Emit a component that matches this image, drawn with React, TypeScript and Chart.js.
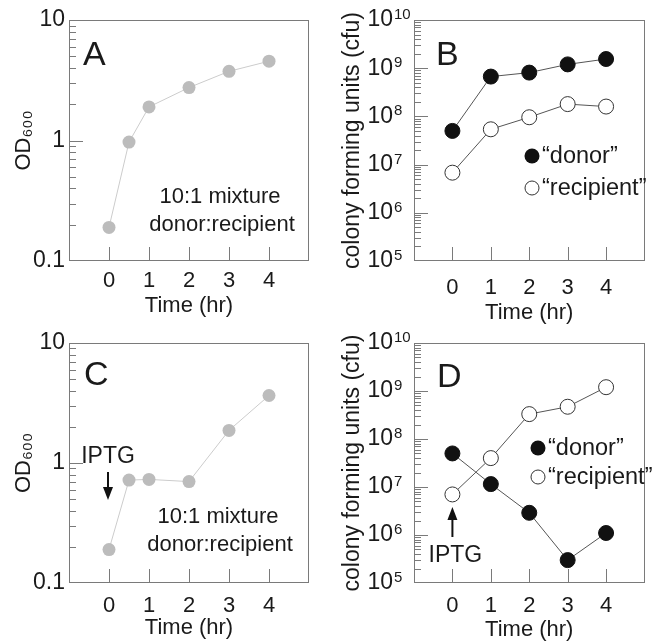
import React, { useEffect, useRef } from 'react';
import { Chart, registerables } from 'chart.js';

Chart.register(...registerables);

const FONT = '"Liberation Sans", Arial, Helvetica, sans-serif';
const TEXT = '#1a1a1a';
const AXIS = '#7a7a7a';

// ---- data ----
const timeOD = [0, 0.5, 1, 2, 3, 4];
const odA = [0.19, 0.97, 1.9, 2.75, 3.75, 4.55];
const odC = [0.19, 0.72, 0.73, 0.7, 1.87, 3.65];

const timeCfu = [0, 1, 2, 3, 4];
const donorB = [5e7, 6.7e8, 8.1e8, 1.2e9, 1.55e9];
const recipientB = [6.8e6, 5.4e7, 9.6e7, 1.8e8, 1.6e8];
const donorD = [5e7, 1.15e7, 2.9e6, 3e5, 1.1e6];
const recipientD = [7e6, 4e7, 3.3e8, 4.7e8, 1.2e9];

const xTickValues = [0, 1, 2, 3, 4];
const xTickLabels = ['0', '1', '2', '3', '4'];
const odTickValues = [0.1, 1, 10];
const odTickLabels = ['0.1', '1', '10'];
const cfuTickValues = [1e5, 1e6, 1e7, 1e8, 1e9, 1e10];
const cfuTickBase = ['10', '10', '10', '10', '10', '10'];
const cfuTickExponents = ['5', '6', '7', '8', '9', '10'];

const seriesNames = ['\u201Cdonor\u201D', '\u201Crecipient\u201D'];

const pts = (xs: number[], ys: number[]) => xs.map((x, i) => ({ x, y: ys[i] }));

function matchIndex(v: number, values: number[]) {
  for (let i = 0; i < values.length; i++) {
    const d = values[i] === 0 ? Math.abs(v) : Math.abs(v - values[i]) / Math.abs(values[i]);
    if (d < 1e-6) return i;
  }
  return -1;
}
function matchLabel(v: number, values: number[], labels: string[]) {
  const i = matchIndex(v, values);
  return i >= 0 ? labels[i] : '';
}

type Spec = {
  left: number; top: number; w: number; h: number;
  area: { l: number; t: number; r: number; b: number };
  kind: 'od' | 'cfu';
  datasets: any[];
  xPad: number; xTitlePad: number; yPad: number; yTitlePad: number;
  decor: (chart: any) => void;
};

function minorMajor(kind: 'od' | 'cfu') {
  const minors: number[] = [];
  const majors: number[] = [];
  const lo = kind === 'od' ? -1 : 5;
  const hi = kind === 'od' ? 1 : 10;
  for (let e = lo; e < hi; e++) {
    for (let m = 2; m <= 9; m++) minors.push(m * Math.pow(10, e));
    if (e > lo) majors.push(Math.pow(10, e));
  }
  return { minors, majors };
}

function drawFrame(chart: any, kind: 'od' | 'cfu') {
  const { ctx, chartArea: a, scales } = chart;
  const L = Math.round(a.left), T = Math.round(a.top), R = Math.round(a.right), B = Math.round(a.bottom);
  ctx.save();
  ctx.strokeStyle = AXIS;
  ctx.lineWidth = 1;
  ctx.strokeRect(L + 0.5, T + 0.5, R - L - 1, B - T - 1);
  ctx.beginPath();
  xTickValues.forEach((v) => {
    const px = Math.round(scales.x.getPixelForValue(v)) + 0.5;
    ctx.moveTo(px, B);
    ctx.lineTo(px, B - 14);
  });
  const { minors, majors } = minorMajor(kind);
  minors.forEach((v) => {
    const py = Math.round(scales.y.getPixelForValue(v)) + 0.5;
    ctx.moveTo(L, py);
    ctx.lineTo(L + 7, py);
  });
  majors.forEach((v) => {
    const py = Math.round(scales.y.getPixelForValue(v)) + 0.5;
    ctx.moveTo(L, py);
    ctx.lineTo(L + 14, py);
  });
  ctx.stroke();
  ctx.restore();
}

function text(ctx: any, s: string, x: number, y: number, size: number, align: string = 'left', baseline: string = 'alphabetic') {
  ctx.save();
  ctx.fillStyle = TEXT;
  ctx.font = `${size}px ${FONT}`;
  ctx.textAlign = align;
  ctx.textBaseline = baseline;
  ctx.fillText(s, x, y);
  ctx.restore();
}

// exponents of the "10^n" tick labels, placed right after Chart.js's own "10"
function drawExponents(chart: any, gapToAxis: number) {
  const { ctx, chartArea: a, scales } = chart;
  cfuTickValues.forEach((v, i) => {
    const py = scales.y.getPixelForValue(v);
    text(ctx, cfuTickExponents[i], a.left - gapToAxis + 1, py - 1, 15, 'left', 'alphabetic');
  });
}

function arrow(ctx: any, x: number, yFrom: number, yTip: number) {
  const dir = yTip > yFrom ? 1 : -1;
  ctx.save();
  ctx.strokeStyle = '#111';
  ctx.fillStyle = '#111';
  ctx.lineWidth = 2;
  ctx.beginPath();
  ctx.moveTo(x, yFrom);
  ctx.lineTo(x, yTip - dir * 10);
  ctx.stroke();
  ctx.beginPath();
  ctx.moveTo(x, yTip);
  ctx.lineTo(x - 5, yTip - dir * 13);
  ctx.lineTo(x + 5, yTip - dir * 13);
  ctx.closePath();
  ctx.fill();
  ctx.restore();
}

function legend(chart: any, dx: number, dy: number, gap: number) {
  const { ctx, chartArea: a } = chart;
  const cx = a.left + dx;
  const y1 = a.top + dy;
  const y2 = y1 + gap;
  ctx.save();
  ctx.beginPath();
  ctx.arc(cx, y1, 7.5, 0, Math.PI * 2);
  ctx.fillStyle = '#111';
  ctx.fill();
  ctx.beginPath();
  ctx.arc(cx, y2, 7, 0, Math.PI * 2);
  ctx.fillStyle = '#fff';
  ctx.fill();
  ctx.strokeStyle = '#333';
  ctx.lineWidth = 1;
  ctx.stroke();
  ctx.restore();
  text(ctx, seriesNames[0], cx + 10, y1 + 1, 23.5, 'left', 'middle');
  text(ctx, seriesNames[1], cx + 10, y2 + 1, 23.5, 'left', 'middle');
}

function makeConfig(p: Spec) {
  const isOD = p.kind === 'od';
  const decorPlugin = {
    id: 'panelDecor',
    beforeDatasetsDraw(chart: any) {
      drawFrame(chart, p.kind);
    },
    afterDatasetsDraw(chart: any) {
      if (!isOD) drawExponents(chart, p.yPad);
      p.decor(chart);
    },
  };
  return {
    type: 'line',
    data: { datasets: p.datasets },
    options: {
      animation: false,
      responsive: false,
      maintainAspectRatio: false,
      devicePixelRatio: 1,
      layout: { padding: { top: p.area.t, right: p.w - p.area.r, left: 0, bottom: 0 } },
      plugins: { legend: { display: false }, tooltip: { enabled: false } },
      elements: { line: { tension: 0 } },
      scales: {
        x: {
          type: 'linear',
          min: -1,
          max: 5,
          grid: { display: false, drawTicks: false },
          border: { display: false },
          ticks: {
            stepSize: 1,
            autoSkip: false,
            maxRotation: 0,
            minRotation: 0,
            padding: p.xPad,
            color: TEXT,
            font: { family: FONT, size: 22 },
            callback: (v: number) => matchLabel(v, xTickValues, xTickLabels),
          },
          title: {
            display: true,
            text: 'Time (hr)',
            color: TEXT,
            font: { family: FONT, size: 22 },
            padding: { top: 0, bottom: p.xTitlePad },
          },
          afterFit: (s: any) => {
            s.height = p.h - p.area.b;
            s.paddingLeft = 0;
            s.paddingRight = 0;
          },
        },
        y: {
          type: 'logarithmic',
          min: isOD ? 0.1 : 1e5,
          max: isOD ? 10 : 1e10,
          grid: { display: false, drawTicks: false },
          border: { display: false },
          ticks: {
            autoSkip: false,
            padding: p.yPad,
            color: TEXT,
            font: { family: FONT, size: 23 },
            callback: (v: number) => isOD ? matchLabel(v, odTickValues, odTickLabels) : matchLabel(v, cfuTickValues, cfuTickBase),
          },
          title: {
            display: true,
            text: isOD ? 'OD\u2086\u2080\u2080' : 'colony forming units (cfu)',
            color: TEXT,
            font: { family: FONT, size: isOD ? 22 : 23 },
            padding: { top: p.yTitlePad, bottom: 0 },
          },
          afterFit: (s: any) => {
            s.width = p.area.l;
            s.paddingTop = 0;
            s.paddingBottom = 0;
          },
        },
      },
    },
    plugins: [decorPlugin],
  };
}

const odStyle = (data: any[]) => ({
  data,
  borderColor: '#cccccc',
  borderWidth: 1,
  pointRadius: 6.5,
  pointBackgroundColor: '#bcbcbc',
  pointBorderColor: '#bcbcbc',
  pointBorderWidth: 0,
});
const donorStyle = (data: any[]) => ({
  label: seriesNames[0],
  data,
  borderColor: '#555',
  borderWidth: 1,
  pointRadius: 7.5,
  pointBackgroundColor: '#111',
  pointBorderColor: '#111',
  pointBorderWidth: 1,
});
const recipStyle = (data: any[]) => ({
  label: seriesNames[1],
  data,
  borderColor: '#555',
  borderWidth: 1,
  pointRadius: 7.5,
  pointBackgroundColor: '#fff',
  pointBorderColor: '#333',
  pointBorderWidth: 1,
});

const specs: Spec[] = [
  {
    left: 0, top: 0, w: 326, h: 320,
    area: { l: 69, t: 20, r: 309, b: 261 },
    kind: 'od',
    datasets: [odStyle(pts(timeOD, odA))],
    xPad: 7, xTitlePad: 1, yPad: 4, yTitlePad: 11,
    decor: (chart: any) => {
      const { ctx, chartArea: a } = chart;
      text(ctx, 'A', a.left + 14, a.top + 45, 34);
      text(ctx, '10:1 mixture', a.left + 151, a.top + 183, 22, 'center');
      text(ctx, 'donor:recipient', a.left + 153, a.top + 211, 22, 'center');
    },
  },
  {
    left: 320, top: 0, w: 333, h: 330,
    area: { l: 94, t: 20, r: 332, b: 261 },
    kind: 'cfu',
    datasets: [donorStyle(pts(timeCfu, donorB)), recipStyle(pts(timeCfu, recipientB))],
    xPad: 14, xTitlePad: 4, yPad: 21, yTitlePad: 19,
    decor: (chart: any) => {
      const { ctx, chartArea: a } = chart;
      text(ctx, 'B', a.left + 22, a.top + 45, 34);
      legend(chart, 118, 136, 32);
    },
  },
  {
    left: 0, top: 320, w: 326, h: 323,
    area: { l: 69, t: 23, r: 309, b: 263 },
    kind: 'od',
    datasets: [odStyle(pts(timeOD, odC))],
    xPad: 10, xTitlePad: 2, yPad: 4, yTitlePad: 11,
    decor: (chart: any) => {
      const { ctx, chartArea: a, scales } = chart;
      text(ctx, 'C', a.left + 15, a.top + 42, 34);
      text(ctx, '10:1 mixture', a.left + 149, a.top + 180, 22, 'center');
      text(ctx, 'donor:recipient', a.left + 151, a.top + 208, 22, 'center');
      const x0 = scales.x.getPixelForValue(0) - 1;
      text(ctx, 'IPTG', x0, a.top + 120, 23, 'center');
      arrow(ctx, x0, a.top + 129, a.top + 157);
    },
  },
  {
    left: 320, top: 320, w: 333, h: 323,
    area: { l: 94, t: 23, r: 332, b: 263 },
    kind: 'cfu',
    datasets: [donorStyle(pts(timeCfu, donorD)), recipStyle(pts(timeCfu, recipientD))],
    xPad: 10, xTitlePad: 0, yPad: 21, yTitlePad: 19,
    decor: (chart: any) => {
      const { ctx, chartArea: a, scales } = chart;
      text(ctx, 'D', a.left + 23, a.top + 44, 34);
      legend(chart, 124, 105, 29);
      const x0 = scales.x.getPixelForValue(0);
      text(ctx, 'IPTG', x0 + 3, a.top + 219, 23, 'center');
      arrow(ctx, x0, a.top + 194, a.top + 164);
    },
  },
];

function Panel({ spec }: { spec: Spec }) {
  const ref = useRef<HTMLCanvasElement | null>(null);
  useEffect(() => {
    if (!ref.current) return;
    const chart = new Chart(ref.current, makeConfig(spec) as any);
    return () => chart.destroy();
  }, [spec]);
  return (
    <canvas
      ref={ref}
      width={spec.w}
      height={spec.h}
      style={{ position: 'absolute', left: spec.left, top: spec.top, width: spec.w, height: spec.h }}
    />
  );
}

export default function App() {
  return (
    <div style={{ position: 'fixed', left: 0, top: 0, width: 653, height: 643, overflow: 'hidden', background: '#fff' }}>
      {specs.map((s, i) => (
        <Panel key={i} spec={s} />
      ))}
    </div>
  );
}
